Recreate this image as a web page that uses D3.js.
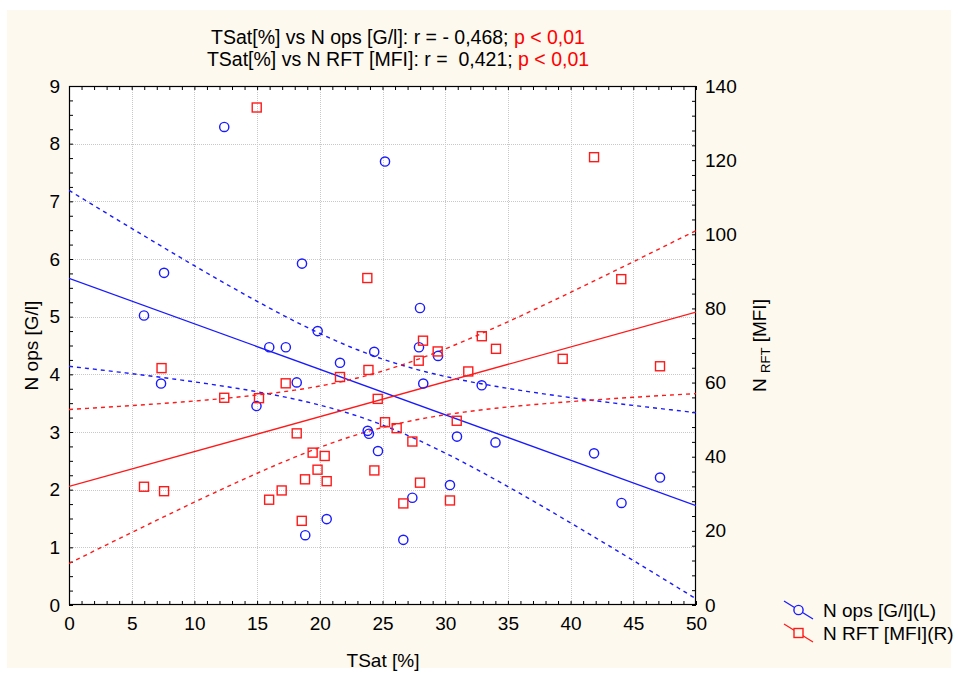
<!DOCTYPE html>
<html>
<head>
<meta charset="utf-8">
<script src="https://cdn.jsdelivr.net/npm/d3@7/dist/d3.min.js"></script>
<style>
  html, body { margin: 0; padding: 0; background: #ffffff; }
  svg { display: block; font-family: "Liberation Sans", Arial, sans-serif; }
  text { white-space: pre; }
</style>
</head>
<body>
<svg id="chart" width="958" height="673"></svg>
<script>
// ---- Data ----
const tsatOps = [5.98, 7.34, 7.58, 12.38, 14.95, 15.97, 17.29, 18.16, 18.58, 18.84, 19.83, 20.55, 21.61, 23.82, 23.92, 24.34, 24.64, 25.2, 26.66, 27.38, 27.91, 27.99, 28.25, 29.43, 30.38, 30.94, 32.91, 34.01, 41.87, 44.06, 47.13];
const nOps    = [5.02, 3.84, 5.76, 8.29, 3.45, 4.47, 4.47, 3.86, 5.92, 1.21, 4.75, 1.49, 4.20, 3.02, 2.97, 4.39, 2.67, 7.69, 1.13, 1.86, 4.47, 5.15, 3.84, 4.32, 2.08, 2.92, 3.81, 2.82, 2.63, 1.77, 2.21];

const tsatRft = [5.98, 7.58, 7.38, 12.38, 14.97, 15.15, 15.96, 16.96, 17.28, 18.16, 18.56, 18.82, 19.43, 19.82, 20.39, 20.55, 21.61, 23.79, 23.88, 24.35, 24.62, 25.2, 26.13, 26.66, 27.38, 27.89, 27.99, 28.23, 29.4, 30.38, 30.92, 31.84, 32.92, 34.05, 39.37, 41.87, 44.04, 47.13];
const nRft    = [31.9, 30.7, 63.9, 55.9, 134.2, 55.8, 28.4, 30.9, 59.8, 46.3, 22.7, 33.9, 41.1, 36.5, 40.2, 33.4, 61.5, 88.2, 63.4, 36.3, 55.6, 49.3, 47.7, 27.4, 44.1, 65.9, 33.0, 71.3, 68.4, 28.2, 49.7, 63.0, 72.5, 69.1, 66.4, 120.8, 87.9, 64.4];

const xTicks = [0, 5, 10, 15, 20, 25, 30, 35, 40, 45, 50];
const yLeftTicks = [0, 1, 2, 3, 4, 5, 6, 7, 8, 9];
const yRightTicks = [0, 20, 40, 60, 80, 100, 120, 140];

const titleLines = [
  { black: "TSat[%] vs N ops [G/l]: r = - 0,468; ", red: "p < 0,01" },
  { black: "TSat[%] vs N RFT [MFI]: r =  0,421; ", red: "p < 0,01" }
];
const legendItems = [
  { label: "N ops [G/l](L)", color: "#1a1aff", shape: "circle" },
  { label: "N RFT [MFI](R)", color: "#ff1a1a", shape: "square" }
];

// ---- Layout ----
const W = 958, H = 673;
const plot = { left: 69, right: 696, top: 86, bottom: 605 };
const BLUE = "#1a1aff", RED = "#ff1a1a";
const FS = 19;

const svg = d3.select("#chart");

svg.append("rect").attr("x", 7).attr("y", 10).attr("width", 944).attr("height", 658)
  .attr("fill", "#fdf9ee");

const x = d3.scaleLinear().domain([0, 50]).range([plot.left, plot.right]);
const yL = d3.scaleLinear().domain([0, 9]).range([plot.bottom, plot.top]);
const yR = d3.scaleLinear().domain([0, 140]).range([plot.bottom, plot.top]);

svg.append("rect").attr("x", plot.left).attr("y", plot.top)
  .attr("width", plot.right - plot.left).attr("height", plot.bottom - plot.top)
  .attr("fill", "#ffffff");

// grid
const grid = svg.append("g").attr("stroke", "#c8c8c8").attr("stroke-width", 1).attr("stroke-dasharray", "1,1");
xTicks.slice(1, -1).forEach(t => grid.append("line")
  .attr("x1", Math.round(x(t)) + 0.5).attr("x2", Math.round(x(t)) + 0.5)
  .attr("y1", plot.top).attr("y2", plot.bottom));
yLeftTicks.slice(1, -1).forEach(t => grid.append("line")
  .attr("y1", Math.round(yL(t)) + 0.5).attr("y2", Math.round(yL(t)) + 0.5)
  .attr("x1", plot.left).attr("x2", plot.right));

// axes with inward ticks
const tickLen = 4;
const axisFont = g => g.selectAll("text").attr("font-size", FS).attr("font-family", "Liberation Sans, Arial, sans-serif").attr("fill", "#000");
const clean = g => { g.select(".domain").remove(); g.selectAll("line").attr("stroke", "#000"); };

// bottom
svg.append("g").attr("transform", `translate(0,${plot.bottom})`)
  .call(d3.axisBottom(x).tickValues(d3.range(0, 51, 1)).tickSize(-tickLen).tickFormat(""))
  .call(clean);
svg.append("g").attr("transform", `translate(0,${plot.bottom})`)
  .call(d3.axisBottom(x).tickValues(xTicks).tickSize(0).tickPadding(12).tickFormat(d3.format("d")))
  .call(clean).call(axisFont);
// top
svg.append("g").attr("transform", `translate(0,${plot.top})`)
  .call(d3.axisTop(x).tickValues(d3.range(0, 51, 1)).tickSize(-tickLen).tickFormat(""))
  .call(clean);
// left
svg.append("g").attr("transform", `translate(${plot.left},0)`)
  .call(d3.axisLeft(yL).tickValues(d3.range(0, 9.01, 0.25)).tickSize(-tickLen).tickFormat(""))
  .call(clean);
svg.append("g").attr("transform", `translate(${plot.left},0)`)
  .call(d3.axisLeft(yL).tickValues(yLeftTicks).tickSize(0).tickPadding(9).tickFormat(d3.format("d")))
  .call(clean).call(axisFont);
// right
svg.append("g").attr("transform", `translate(${plot.right},0)`)
  .call(d3.axisRight(yR).tickValues(d3.range(0, 141, 4)).tickSize(-tickLen).tickFormat(""))
  .call(clean);
svg.append("g").attr("transform", `translate(${plot.right},0)`)
  .call(d3.axisRight(yR).tickValues(yRightTicks).tickSize(0).tickPadding(9).tickFormat(d3.format("d")))
  .call(clean).call(axisFont);

// frame
svg.append("rect").attr("x", plot.left + 0.5).attr("y", plot.top + 0.5)
  .attr("width", plot.right - plot.left - 1).attr("height", plot.bottom - plot.top - 1)
  .attr("fill", "none").attr("stroke", "#000").attr("stroke-width", 1.2);

// ---- regression + 95% CI bands ----
function fit(xs, ys) {
  const n = xs.length;
  const mx = d3.mean(xs), my = d3.mean(ys);
  let sxx = 0, sxy = 0;
  for (let i = 0; i < n; i++) { sxx += (xs[i] - mx) ** 2; sxy += (xs[i] - mx) * (ys[i] - my); }
  const b = sxy / sxx, a = my - b * mx;
  let sse = 0;
  for (let i = 0; i < n; i++) sse += (ys[i] - a - b * xs[i]) ** 2;
  const s = Math.sqrt(sse / (n - 2));
  const df = n - 2, z = 1.959964;
  const t = z + (z ** 3 + z) / (4 * df) + (5 * z ** 5 + 16 * z ** 3 + 3 * z) / (96 * df * df);
  const pred = xv => a + b * xv;
  const half = xv => t * s * Math.sqrt(1 / n + (xv - mx) ** 2 / sxx);
  return { a, b, pred, half };
}

svg.append("clipPath").attr("id", "plotclip").append("rect")
  .attr("x", plot.left).attr("y", plot.top).attr("width", plot.right - plot.left).attr("height", plot.bottom - plot.top);
const layer = svg.append("g").attr("clip-path", "url(#plotclip)");

const xsGrid = d3.range(0, 50.001, 0.5);
function drawFit(xs, ys, yScale, color) {
  const f = fit(xs, ys);
  const line = d3.line().x(d => x(d[0])).y(d => yScale(d[1]));
  layer.append("path").attr("d", line([[0, f.pred(0)], [50, f.pred(50)]]))
    .attr("fill", "none").attr("stroke", color).attr("stroke-width", 1.4);
  [1, -1].forEach(sg => {
    layer.append("path").attr("d", line(xsGrid.map(v => [v, f.pred(v) + sg * f.half(v)])))
      .attr("fill", "none").attr("stroke", color).attr("stroke-width", 1.4).attr("stroke-dasharray", "4,4");
  });
}
drawFit(tsatOps, nOps, yL, BLUE);
drawFit(tsatRft, nRft, yR, RED);

// points
layer.selectAll("circle.ops").data(tsatOps.map((v, i) => [v, nOps[i]])).join("circle")
  .attr("class", "ops").attr("cx", d => x(d[0])).attr("cy", d => yL(d[1])).attr("r", 4.6)
  .attr("fill", "none").attr("stroke", BLUE).attr("stroke-width", 1.4);
const sq = 9;
layer.selectAll("rect.rft").data(tsatRft.map((v, i) => [v, nRft[i]])).join("rect")
  .attr("class", "rft").attr("x", d => x(d[0]) - sq / 2).attr("y", d => yR(d[1]) - sq / 2)
  .attr("width", sq).attr("height", sq)
  .attr("fill", "none").attr("stroke", RED).attr("stroke-width", 1.4);

// ---- titles ----
titleLines.forEach((ln, i) => {
  const t = svg.append("text").attr("x", 398).attr("y", 44 + i * 22)
    .attr("text-anchor", "middle").attr("font-size", 19.5).attr("fill", "#000");
  t.append("tspan").text(ln.black);
  t.append("tspan").attr("fill", "#ff0000").text(ln.red);
});

svg.append("text").attr("x", 383).attr("y", 667).attr("text-anchor", "middle")
  .attr("font-size", FS).text("TSat [%]");

svg.append("text").attr("transform", `translate(38,${(plot.top + plot.bottom) / 2}) rotate(-90)`)
  .attr("text-anchor", "middle").attr("font-size", FS).text("N ops [G/l]");

const rt = svg.append("text").attr("transform", `translate(766,${(plot.top + plot.bottom) / 2}) rotate(-90)`)
  .attr("text-anchor", "middle").attr("font-size", FS);
rt.append("tspan").text("N ");
rt.append("tspan").attr("font-size", 13).attr("dy", 4).text("RFT");
rt.append("tspan").attr("dy", -4).text(" [MFI]");

// ---- legend ----
legendItems.forEach((it, i) => {
  const cy = 610 + i * 23;
  const g = svg.append("g");
  g.append("line").attr("x1", 784).attr("y1", cy - 9).attr("x2", 813).attr("y2", cy + 9)
    .attr("stroke", it.color).attr("stroke-width", 1.3);
  if (it.shape === "circle") {
    g.append("circle").attr("cx", 798.5).attr("cy", cy).attr("r", 4.6)
      .attr("fill", "#fdf9ee").attr("stroke", it.color).attr("stroke-width", 1.4);
  } else {
    g.append("rect").attr("x", 798.5 - sq / 2).attr("y", cy - sq / 2).attr("width", sq).attr("height", sq)
      .attr("fill", "#fdf9ee").attr("stroke", it.color).attr("stroke-width", 1.4);
  }
  g.append("text").attr("x", 823).attr("y", cy + 7).attr("font-size", FS).text(it.label);
});
</script>
</body>
</html>
